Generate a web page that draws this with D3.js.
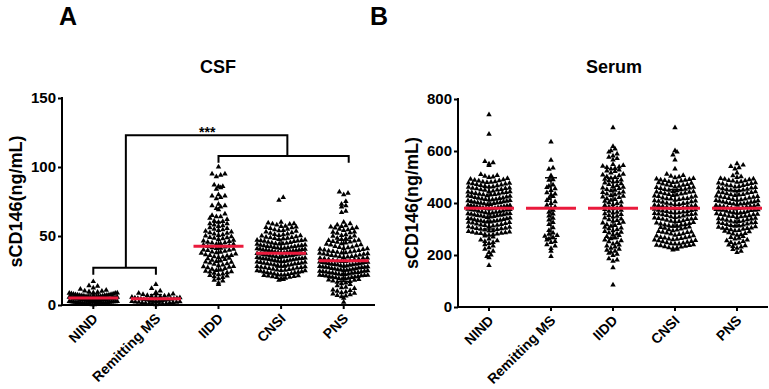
<!DOCTYPE html>
<html>
<head>
<meta charset="utf-8">
<script src="https://cdn.jsdelivr.net/npm/d3@7"></script>
<style>
  html, body { margin: 0; padding: 0; background: #fff; }
  svg { display: block; }
  text { font-family: "Liberation Sans", Arial, sans-serif; font-weight: bold; fill: #000; }
</style>
</head>
<body>
<script>
// ---------------- DATA ----------------
const categories = ["NIND", "Remitting MS", "IIDD", "CNSI", "PNS"];
const csfTicks = [0, 50, 100, 150];
const serumTicks = [0, 200, 400, 600, 800];

// CSF sCD146 (ng/mL)
const csfNIND = [17,14,13.6,12.4,11.5,10.8,10.2,10,9.6,9.3,9,8.8,8.5,8.3,8.1,7.9,7.7,7.5,7.3,7.1,7,6.9,6.8,6.6,6.5,6.4,6.2,6.1,6,5.9,5.8,5.7,5.6,5.5,5.4,5.3,5.2,5.1,5,5,4.9,4.8,4.7,4.6,4.5,4.5,4.4,4.3,4.2,4.1,4,4,3.9,3.8,3.7,3.6,3.5,3.4,3.3,3.2,3.1,3,3,2.9,2.8,2.7,2.6,2.5,2.4,2.3,2.2,2.1,2,1.9,1.8,1.7,1.6,1.5,1.4,1.2,1.1,1,0.9,0.7,0.6,0.4,0.3,0.2,6.3,5.2,4.6,3.9,3.3,2.6,8.6,7.4,5.8,4.2,3.6,2.4,1.3,0.8];
const csfRMS = [15,12,10.2,9.1,8.6,8,7.6,7.1,6.9,6.5,6.1,5.9,5.6,5.4,5.1,4.9,4.8,4.5,4.3,4.1,3.9,3.8,3.5,3.3,3.1,2.9,2.8,2.6,2.4,2.1,2,1.8,1.5,1.3,1.1,0.9,0.7,0.5,0.3,6.3,4.4,3.4,2.2,1.6,0.8];
const csfIIDD = [100,95,95,94,93,87,86,86,85,84,80,79,79,78,77,73,72,72,71,70,69,66,65,64,64,63,62,61,60.5,60,59,59,58,57.5,57,56,55.5,55,54.5,54,53.5,53,52,51.5,51,50.5,50,49.5,49,48.5,48,47.5,47,46.5,46,45.5,45,44.5,44,43.5,43,42.5,42,41.5,41,40.5,40,39.5,39,38.5,38,37.5,37,36.5,36,35.5,35,34.5,34,33.5,33,32.5,32,31.5,31,30.5,30,29.5,29,28.5,28,27.5,27,26.5,26,25.5,25,24.5,24,23.5,23,22.5,22,21.5,21,20.5,20,19,18,17.5,16,15,52.5,48.8,45.2,41.2,38.2,34.8,31.2,27.8,24.2,44.1,39.8,35.9];
const csfCNSI = [78,76,60,59.5,59,58.5,58,57,57.2,56.5,56,55.5,55,54.5,54,53.5,53,52.5,52,51.5,51,50.5,50,50.2,49.5,49,49.2,48.5,48,48.3,47.5,47,47.2,46.5,46,46.2,45.5,45,45.3,44.5,44,44.2,44.4,43.5,43,43.2,43.4,42.5,42,42.2,42.4,41.5,41,41.2,41.4,40.5,40,40.2,40.4,39.5,39,39.2,39.4,38.5,38,38.2,38.4,37.5,37,37.2,37.4,36.5,36,36.2,36.4,35.5,35,35.2,35.4,34.5,34,34.2,34.4,33.5,33,33.2,33.4,32.5,32,32.2,32.4,31.5,31,31.2,31.4,30.5,30,30.2,30.4,29.5,29,29.2,28.5,28,28.2,27.5,27,27.2,26.5,26,26.2,25.5,25,25.2,24.5,24,24.2,23.5,23,23.2,22.5,22,22.2,21.5,21,21.2,20.5,20,20.2,19.5,19,18.5,18,46.8,39.7,33.6,28.7,24.8,21.8,58.8,56.2,53.8,51.2,48.8,46.6,44.8,42.8,41.8,40.8,39.8,38.8,37.8,36.8,35.8,34.8,33.8,32.8,31.8,30.8,29.8,28.8,27.8,26.8,25.8,24.8,23.8,22.8,21.8,20.8];
const csfPNS = [82,81,80,75,73,72,71,68,67,60,59,58,57.5,57,56.5,56,55.5,55,54.5,54,53,52.5,52,51,50.5,50,49,48.5,48,47.5,47,46.5,46,45.5,45,44.5,44,43.5,43,42.5,42,41.5,41,40.5,40,40.2,39.5,39,39.2,38.5,38,38.2,37.5,37,37.2,36.5,36,36.2,35.5,35,35.2,34.5,34,34.2,33.5,33,33.2,32.5,32,32.2,31.5,31,31.2,30.5,30,30.2,30.4,29.5,29,29.2,29.4,28.5,28,28.2,28.4,27.5,27,27.2,27.4,26.5,26,26.2,26.4,25.5,25,25.2,25.4,24.5,24,24.2,24.4,23.5,23,23.2,23.4,22.5,22,22.2,22.4,21.5,21,21.2,21.4,20.5,20,20.2,20.4,19.5,19,19.2,18.5,18,18.2,17.5,17,16.5,16,15.5,15,14,13,12.5,12,11,10.5,10,9.5,9,8.5,8,7.5,7,6.5,6,5,2,45.8,41.7,37.8,33.9,30.8,27.7,24.6,21.7,55.8,52.8,49.8,46.8,43.8,40.8,38.8,36.8,34.8,32.8,30.8,28.8,26.8,24.8,22.8,20.8,19.8,18.8,31.6,29.6,27.6,25.6,23.6,21.6,35.6];

// Serum sCD146 (ng/mL)
const serNIND = [740,665,560,555,550,545,510,506,503,500,498,495,492,490,488,485,482,480,479,477,473,471,470,467,465,463,461,458,457,455,452,450,449,446,443,441,440,437,435,434,431,428,427,425,423,421,420,418,415,414,412,410,409,407,405,403,401,400,399,397,395,394,392,390,389,387,385,384,383,381,380,378,377,375,373,372,370,369,367,365,363,362,360,358,357,355,353,351,350,348,346,345,343,341,339,337,336,334,332,330,328,326,325,323,320,318,316,314,312,310,307,305,303,301,298,296,293,291,288,286,283,281,278,276,273,270,262,258,255,252,248,245,240,235,228,222,215,210,200,195,190,160,433,402,376,352,327,302,284,486,481,476,468,462,456,451,445,439,432,426,419,413,406,398,391,386,379,374,366,359,354,347,340,333,327,321,315,309,299,294,289,284,279,474,444,416,388,361,331];
const serRMS = [635,565,535,530,505,490,488,470,465,460,455,448,440,435,430,425,418,410,405,398,392,385,378,372,365,358,350,342,335,325,318,305,295,285,280,275,272,268,262,258,252,248,240,235,225,215,195];
const serIIDD = [690,618,608,601,596,589,581,576,571,566,548,545,542,539,537,533,531,527,523,521,516,511,508,505,501,498,496,492,489,486,483,481,477,474,471,468,464,461,458,456,452,449,447,443,441,438,435,432,429,426,423,421,417,414,411,407,404,401,398,394,391,388,385,381,378,375,372,369,365,362,359,356,352,349,346,343,339,336,333,330,326,323,321,317,314,311,307,304,301,298,294,291,288,285,281,278,275,271,266,263,258,255,251,247,243,239,235,231,226,222,219,215,211,207,203,198,186,181,176,151,85];
const serCNSI = [690,601,596,585,566,531,511,506,503,500,497,495,493,491,489,487,485,482,480,478,476,473,471,469,467,465,462,460,458,456,453,451,449,447,445,442,440,438,436,433,431,429,427,425,422,420,418,416,414,411,409,407,405,403,400,398,396,394,392,390,388,386,384,382,380,378,376,374,372,370,368,366,364,362,360,358,356,354,352,350,347,345,343,341,339,337,334,332,330,328,325,323,321,318,316,313,311,308,306,303,300,297,294,291,288,285,282,279,276,273,270,267,264,261,258,255,252,249,246,243,240,237,234,231,228,225,222,220,443,417,391,368,341,316,287,262,247,236,488,479,470,461,452,444,435,426,417,408,399,387,379,371,363,355,346,338,329,320,312,304,296,289,281,274,266,259,251,244,238,232,227,243,256,268,395,358];
const serPNS = [551,546,541,536,531,516,505,501,498,495,492,490,487,485,482,480,478,475,473,471,469,467,464,462,460,458,455,453,451,449,447,444,442,440,438,436,433,431,429,427,425,422,420,418,416,414,411,409,407,405,403,401,399,397,395,393,391,389,387,385,383,381,379,377,375,373,371,369,367,365,363,361,359,357,355,353,351,349,347,345,342,340,338,336,334,331,329,327,325,323,320,318,316,314,311,309,307,304,302,299,297,294,292,290,281,276,271,265,258,252,248,243,236,231,226,221,215,210,446,421,396,372,349,324,301,493,486,477,468,459,450,441,432,423,413,404,396,388,380,372,364,356,348,339,330,321,312,303,295,286,283,278,268,262,255,246,239,233,374,386,398,362,410];

const csfMeans = [5, 4.5, 42.5, 37.5, 32];
const csfSD = [3, 3, 17.5, 10, 15];
const serMeans = [380, 380, 380, 380, 380];
const serSD = [80, 117, 115, 72, 68];

// significance brackets (category index positions, data-value heights)
const csfBrackets = [
  { a: 0, b: 1, y: 27, la: 22, lb: 22 },
  { a: 2, b: 4.08, y: 108, la: 103, lb: 103 },
  { a: 0.52, b: 3.1, y: 123, la: 27, lb: 108 }
];
const csfStars = { pos: 1.82, y: 126, label: "***" };

// ---------------- DRAW ----------------
const W = 769, H = 389;
const svg = d3.select("body").append("svg").attr("width", W).attr("height", H);

function swarm(values, y, cx, rowH, dx, maxHalf) {
  const bins = d3.group(values.slice().sort((a, b) => a - b), v => Math.round(y(v) / rowH));
  const out = [];
  for (const arr of bins.values()) {
    arr.sort((a, b) => a - b);
    const n = arr.length;
    let step = dx;
    if (n > 1 && (n - 1) / 2 * step > maxHalf) step = maxHalf / ((n - 1) / 2);
    arr.forEach((v, i) => {
      let off;
      if (n % 2 === 1) {
        const k = Math.ceil(i / 2);
        off = i === 0 ? 0 : (i % 2 === 1 ? 1 : -1) * k * step;
      } else {
        const k = Math.floor(i / 2);
        off = (i % 2 === 0 ? -1 : 1) * (k + 0.5) * step;
      }
      out.push({ x: cx + off, y: y(v) });
    });
  }
  return out;
}

const tri = d3.symbol().type(d3.symbolTriangle).size(13)();

function drawPanel(cfg) {
  const g = svg.append("g");
  const x = d3.scaleBand().domain(categories).range([cfg.left, cfg.right]);
  const y = d3.scaleLinear().domain([0, cfg.max]).range([cfg.bottom, cfg.top]);
  const xc = c => x(c) + x.bandwidth() / 2;
  const xi = i => xc(categories[0]) + i * x.step();

  // points
  cfg.series.forEach((vals, i) => {
    const pts = swarm(vals, y, xc(categories[i]), cfg.rowH, cfg.dx, cfg.maxHalf);
    g.append("g").selectAll("path").data(pts).join("path")
      .attr("d", tri).attr("fill", "#000")
      .attr("transform", d => `translate(${d.x.toFixed(2)},${d.y.toFixed(2)})`);
  });

  // error bars (SD)
  categories.forEach((c, i) => {
    const m = cfg.means[i], s = cfg.sd[i];
    const lo = Math.max(0, m - s), hi = m + s;
    g.append("line").attr("x1", xc(c)).attr("x2", xc(c)).attr("y1", y(lo)).attr("y2", y(hi))
      .attr("stroke", "#000").attr("stroke-width", 1.5);
    [lo, hi].forEach(v => g.append("line").attr("x1", xc(c) - 6).attr("x2", xc(c) + 6)
      .attr("y1", y(v)).attr("y2", y(v)).attr("stroke", "#000").attr("stroke-width", 1.5));
  });

  // mean lines
  categories.forEach((c, i) => {
    g.append("line").attr("x1", xc(c) - 25).attr("x2", xc(c) + 25)
      .attr("y1", y(cfg.means[i])).attr("y2", y(cfg.means[i]))
      .attr("stroke", "#ea1a3c").attr("stroke-width", 3);
  });

  // y axis
  const yAx = g.append("g").attr("transform", `translate(${cfg.left},0)`)
    .call(d3.axisLeft(y).tickValues(cfg.ticks).tickSize(4).tickPadding(2));
  yAx.select(".domain").remove();
  yAx.selectAll("line").attr("stroke", "#000").attr("stroke-width", 2);
  yAx.selectAll("text").style("font-size", "15px").style("font-family", "Liberation Sans, Arial, sans-serif").style("font-weight", "bold");
  g.append("line").attr("x1", cfg.left).attr("x2", cfg.left).attr("y1", y(cfg.max) - 1).attr("y2", y(0) + 1)
    .attr("stroke", "#000").attr("stroke-width", 2);

  // x axis
  const xAx = g.append("g").attr("transform", `translate(0,${y(0)})`)
    .call(d3.axisBottom(x).tickSize(4).tickFormat(""));
  xAx.select(".domain").remove();
  xAx.selectAll("line").attr("stroke", "#000").attr("stroke-width", 2);
  g.append("line").attr("x1", cfg.left).attr("x2", cfg.right).attr("y1", y(0)).attr("y2", y(0))
    .attr("stroke", "#000").attr("stroke-width", 2);
  categories.forEach(c => {
    g.append("text").attr("transform", `translate(${xc(c) + 2},${y(0) + 11}) rotate(-45)`)
      .attr("text-anchor", "end").attr("dy", "0.35em").style("font-size", "14px").text(c);
  });

  // y label
  g.append("text").attr("transform", `translate(${cfg.ylabX},${(y(0) + y(cfg.max)) / 2}) rotate(-90)`)
    .attr("text-anchor", "middle").style("font-size", "18px").text("sCD146(ng/mL)");

  // title
  g.append("text").attr("x", cfg.titleX).attr("y", 73).attr("text-anchor", "middle")
    .style("font-size", "18px").text(cfg.title);
  // panel letter
  g.append("text").attr("x", cfg.letterX).attr("y", 25).style("font-size", "25px").text(cfg.letter);

  // brackets
  (cfg.brackets || []).forEach(b => {
    const p = d3.path();
    p.moveTo(xi(b.a), y(b.la)); p.lineTo(xi(b.a), y(b.y)); p.lineTo(xi(b.b), y(b.y)); p.lineTo(xi(b.b), y(b.lb));
    g.append("path").attr("d", p.toString()).attr("fill", "none").attr("stroke", "#000").attr("stroke-width", 2);
  });
  if (cfg.stars) {
    g.append("text").attr("x", xi(cfg.stars.pos)).attr("y", y(cfg.stars.y) + 6).attr("text-anchor", "middle")
      .style("font-size", "14px").text(cfg.stars.label);
  }
}

drawPanel({
  left: 62, right: 375, top: 98, bottom: 305, max: 150, ticks: csfTicks,
  series: [csfNIND, csfRMS, csfIIDD, csfCNSI, csfPNS], means: csfMeans, sd: csfSD,
  rowH: 4.4, dx: 4.3, maxHalf: 24,
  ylabX: 22, title: "CSF", titleX: 218, letter: "A", letterX: 59,
  brackets: csfBrackets, stars: csfStars
});
drawPanel({
  left: 458, right: 768, top: 99, bottom: 307, max: 800, ticks: serumTicks,
  series: [serNIND, serRMS, serIIDD, serCNSI, serPNS], means: serMeans, sd: serSD,
  rowH: 4.4, dx: 4.1, maxHalf: 21,
  ylabX: 418, title: "Serum", titleX: 614, letter: "B", letterX: 370
});
</script>
</body>
</html>
